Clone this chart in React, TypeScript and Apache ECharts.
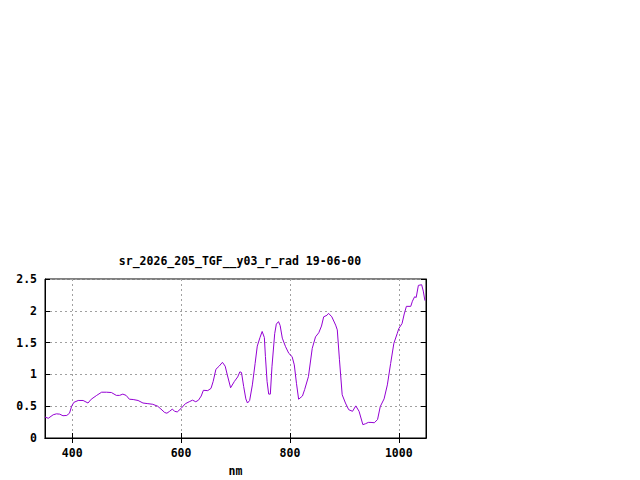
import React, { useEffect, useRef } from "react";
import * as echarts from "echarts";

const TITLE = "sr_2026_205_TGF__y03_r_rad 19-06-00";
const X_LABEL = "nm";
const X_TICKS = [400, 600, 800, 1000];

const wavelengths = [
  350, 356, 365, 371, 377, 383, 390, 395, 399, 403, 411, 420, 429, 435, 445, 454, 463, 472, 481, 487,
  493, 499, 505, 512, 521, 530, 539, 548, 557, 563, 570, 574, 579, 584, 588, 593, 600, 608, 615, 621,
  627, 632, 637, 641, 649, 655, 659, 664, 670, 676, 681, 685, 691, 698, 704, 708, 711, 715, 719, 722,
  726, 731, 736, 740, 745, 749, 753, 755, 758, 761, 764, 767, 772, 775, 779, 782, 786, 792, 798, 804,
  808, 812, 816, 823, 827, 834, 841, 847, 853, 858, 862, 868, 871, 877, 884, 887, 891, 896, 902, 908,
  915, 921, 927, 934, 939, 944, 949, 955, 961, 966, 973, 979, 985, 991, 997, 1000, 1006, 1010, 1014, 1022,
  1025, 1029, 1032, 1036, 1042, 1045, 1048,
];

const radiance = [
  0.33, 0.31, 0.365, 0.38, 0.375, 0.35, 0.355, 0.39, 0.5, 0.56, 0.59, 0.59, 0.55, 0.61, 0.67, 0.72, 0.72, 0.715, 0.67, 0.67,
  0.69, 0.67, 0.61, 0.605, 0.59, 0.55, 0.54, 0.53, 0.5, 0.455, 0.4, 0.39, 0.42, 0.455, 0.42, 0.41, 0.465, 0.54, 0.57, 0.595,
  0.57, 0.595, 0.66, 0.75, 0.745, 0.78, 0.89, 1.08, 1.13, 1.19, 1.13, 0.99, 0.79, 0.89, 0.96, 1.04, 1.03, 0.81, 0.615, 0.55,
  0.59, 0.835, 1.17, 1.445, 1.58, 1.675, 1.58, 1.28, 0.89, 0.69, 0.69, 1.12, 1.64, 1.79, 1.83, 1.77, 1.57, 1.435, 1.33, 1.28,
  1.15, 0.86, 0.61, 0.66, 0.76, 0.965, 1.41, 1.59, 1.655, 1.76, 1.905, 1.93, 1.96, 1.905, 1.775, 1.7, 1.23, 0.68, 0.55, 0.445,
  0.42, 0.505, 0.42, 0.21, 0.225, 0.245, 0.245, 0.24, 0.29, 0.495, 0.615, 0.835, 1.17, 1.49, 1.64, 1.72, 1.8, 1.95, 2.07, 2.07,
  2.15, 2.22, 2.21, 2.4, 2.41, 2.31, 2.16,
];

const FONT = "DejaVu Sans Mono";

export default function App() {
  const ref = useRef<HTMLDivElement>(null);
  useEffect(() => {
    if (!ref.current) return;
    const chart = echarts.init(ref.current, null, { renderer: "svg" });
    const labelStyle = { fontFamily: FONT, fontWeight: "bold" as const, fontSize: 11.5, color: "#000" };
    const gridLine = { show: true, lineStyle: { color: "#a0a0a0", type: [2, 3] as any, width: 1 } };
    chart.setOption({
      animation: false,
      backgroundColor: "#fff",
      title: {
        text: TITLE,
        left: 235,
        textAlign: "center",
        top: 250,
        textStyle: { ...labelStyle, fontSize: 11.5 },
      },
      grid: {
        left: 45,
        right: 214,
        top: 279,
        bottom: 42,
        show: true,
        borderColor: "#000",
        borderWidth: 1,
        backgroundColor: "transparent",
      },
      xAxis: [
        {
          type: "value",
          min: 350,
          max: 1050,
          position: "bottom",
          name: X_LABEL,
          nameLocation: "middle",
          nameGap: 27,
          nameTextStyle: labelStyle,
          axisLine: { show: true, lineStyle: { color: "#000", width: 1 } },
          axisTick: { show: true, inside: true, length: 5, customValues: X_TICKS, lineStyle: { color: "#000" } },
          axisLabel: { ...labelStyle, margin: 9, customValues: X_TICKS, formatter: (v: number) => String(v) },
          splitLine: { ...gridLine, customValues: X_TICKS } as any,
        },
        {
          type: "value",
          min: 350,
          max: 1050,
          position: "top",
          axisLine: { show: true, lineStyle: { color: "#000", width: 1 } },
          axisTick: { show: true, inside: true, length: 5, customValues: X_TICKS, lineStyle: { color: "#000" } },
          axisLabel: { show: false },
          splitLine: { show: false },
        },
      ],
      yAxis: [
        {
          type: "value",
          min: 0,
          max: 2.5,
          interval: 0.5,
          position: "left",
          axisLine: { show: true, lineStyle: { color: "#000", width: 1 } },
          axisTick: { show: true, inside: true, length: 5, lineStyle: { color: "#000" } },
          axisLabel: { ...labelStyle, margin: 8, formatter: (v: number) => String(v) },
          splitLine: gridLine,
        },
        {
          type: "value",
          min: 0,
          max: 2.5,
          interval: 0.5,
          position: "right",
          axisLine: { show: true, lineStyle: { color: "#000", width: 1 } },
          axisTick: { show: true, inside: true, length: 5, lineStyle: { color: "#000" } },
          axisLabel: { show: false },
          splitLine: { show: false },
        },
      ],
      series: [
        {
          type: "line",
          xAxisIndex: 0,
          yAxisIndex: 0,
          data: wavelengths.map((w, i) => [w, radiance[i]]),
          showSymbol: false,
          lineStyle: { color: "#9400d3", width: 1 },
          z: 5,
        },
      ],
    });
    return () => chart.dispose();
  }, []);
  return (
    <div
      ref={ref}
      style={{ position: "fixed", left: 0, top: 0, width: 640, height: 480, background: "#fff" }}
    />
  );
}
